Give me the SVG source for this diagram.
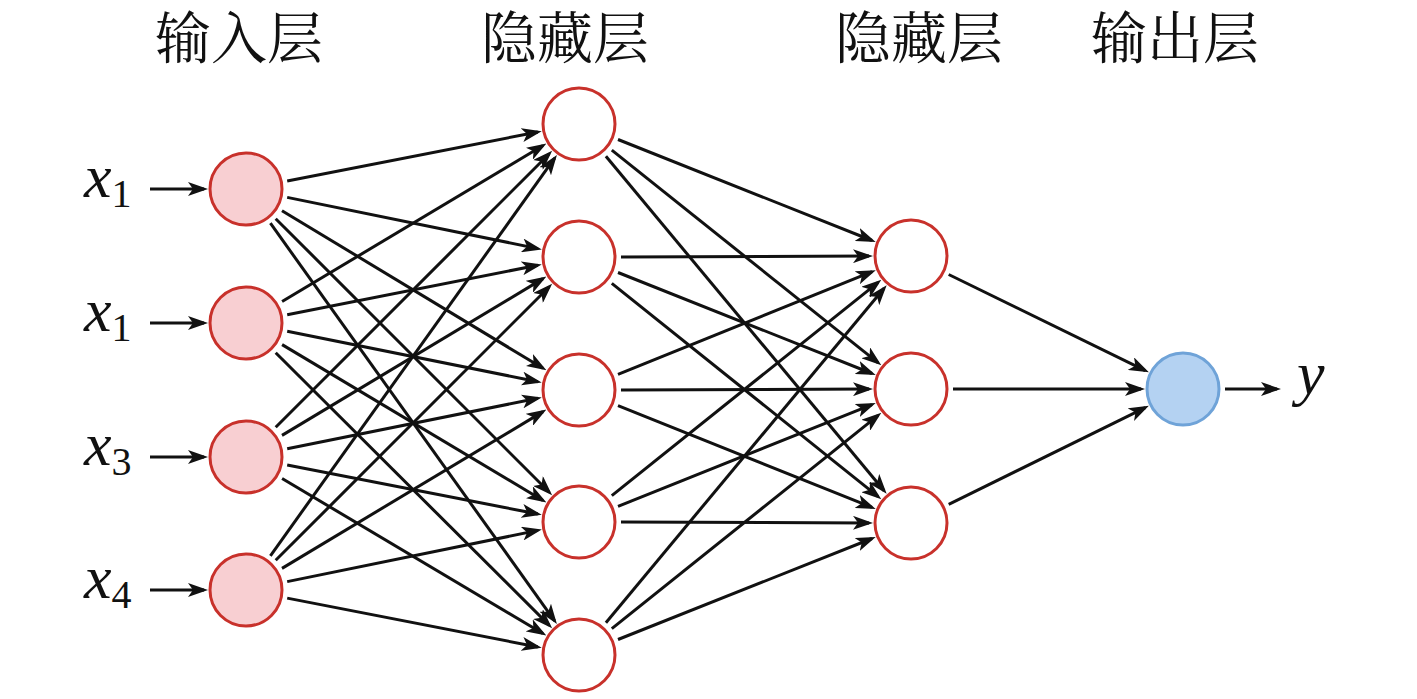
<svg xmlns="http://www.w3.org/2000/svg" width="1417" height="699" viewBox="0 0 1417 699">
<defs>
<marker id="ah" markerUnits="userSpaceOnUse" markerWidth="20" markerHeight="14" viewBox="0 0 20 14" refX="16" refY="7" orient="auto">
<path d="M0,0 L20,7 L0,14 L5,7 z" fill="#111"/>
</marker>
<style>
.title{font-family:"Noto Serif CJK SC","Noto Sans CJK SC",serif;font-size:56px;fill:#111;text-anchor:middle}
.var{font-family:"Liberation Serif","Times New Roman",serif;font-style:italic;font-size:62px;fill:#111}
.sub{font-style:normal;font-size:40px}
.in{fill:#f8cfd2;stroke:#c8312b;stroke-width:3}
.hid{fill:#fff;stroke:#c8312b;stroke-width:3}
.out{fill:#b4d2f2;stroke:#6fa3d8;stroke-width:3}
.c line{stroke:#111;stroke-width:3;marker-end:url(#ah)}
</style>
</defs>
<rect width="1417" height="699" fill="#fff"/>
<g id="titles">
<text class="title" x="239" y="58">输入层</text>
<text class="title" x="565" y="58">隐藏层</text>
<text class="title" x="919" y="58">隐藏层</text>
<text class="title" x="1175" y="58">输出层</text>
</g>
<g id="labels">
<text class="var" x="84" y="197">x<tspan class="sub" dy="10">1</tspan></text>
<text class="var" x="84" y="331">x<tspan class="sub" dy="10">1</tspan></text>
<text class="var" x="84" y="465">x<tspan class="sub" dy="10">3</tspan></text>
<text class="var" x="84" y="598">x<tspan class="sub" dy="10">4</tspan></text>
<text class="var" x="1297" y="394">y</text>
</g>
<g id="connectors" class="c">
<line x1="150" y1="189" x2="204" y2="189" stroke-width="4"/>
<line x1="150" y1="323" x2="204" y2="323" stroke-width="4"/>
<line x1="150" y1="457" x2="204" y2="457" stroke-width="4"/>
<line x1="150" y1="590" x2="204" y2="590" stroke-width="4"/>
<line x1="287.2" y1="181.0" x2="537.8" y2="132.0"/>
<line x1="287.2" y1="197.4" x2="537.9" y2="248.6"/>
<line x1="282.0" y1="210.7" x2="543.0" y2="368.3"/>
<line x1="275.7" y1="218.7" x2="549.3" y2="492.3"/>
<line x1="270.4" y1="223.2" x2="554.6" y2="620.8"/>
<line x1="282.1" y1="301.5" x2="543.0" y2="145.5"/>
<line x1="287.2" y1="314.8" x2="537.8" y2="265.2"/>
<line x1="287.2" y1="331.3" x2="537.8" y2="381.7"/>
<line x1="282.1" y1="344.6" x2="543.0" y2="500.5"/>
<line x1="275.7" y1="352.7" x2="549.3" y2="625.4"/>
<line x1="275.7" y1="427.3" x2="549.3" y2="153.7"/>
<line x1="282.0" y1="435.4" x2="543.0" y2="278.6"/>
<line x1="287.2" y1="448.7" x2="537.8" y2="398.3"/>
<line x1="287.2" y1="465.0" x2="537.8" y2="514.0"/>
<line x1="282.1" y1="478.5" x2="542.9" y2="633.5"/>
<line x1="270.4" y1="555.8" x2="554.6" y2="158.2"/>
<line x1="275.7" y1="560.3" x2="549.3" y2="286.7"/>
<line x1="282.0" y1="568.4" x2="543.0" y2="411.6"/>
<line x1="287.2" y1="581.6" x2="537.9" y2="530.4"/>
<line x1="287.2" y1="598.1" x2="537.8" y2="647.0"/>
<line x1="618.0" y1="139.5" x2="872.0" y2="240.5"/>
<line x1="611.8" y1="150.2" x2="878.2" y2="362.8"/>
<line x1="605.9" y1="156.3" x2="884.1" y2="490.7"/>
<line x1="621" y1="256.9" x2="869" y2="256.1"/>
<line x1="618.0" y1="272.5" x2="872.0" y2="373.5"/>
<line x1="611.8" y1="283.3" x2="878.2" y2="496.7"/>
<line x1="618.0" y1="374.3" x2="872.1" y2="271.7"/>
<line x1="621" y1="389.9" x2="869" y2="389.1"/>
<line x1="618.0" y1="405.6" x2="872.0" y2="507.4"/>
<line x1="611.8" y1="495.7" x2="878.2" y2="282.3"/>
<line x1="618.0" y1="506.4" x2="872.0" y2="404.6"/>
<line x1="621" y1="522.1" x2="869" y2="522.9"/>
<line x1="605.9" y1="622.7" x2="884.1" y2="288.3"/>
<line x1="611.8" y1="628.7" x2="878.2" y2="415.3"/>
<line x1="618.0" y1="639.5" x2="872.0" y2="538.5"/>
<line x1="948.7" y1="274.5" x2="1145.3" y2="370.6"/>
<line x1="953" y1="389" x2="1141" y2="389"/>
<line x1="948.7" y1="504.4" x2="1145.3" y2="407.6"/>
<line x1="1225" y1="389" x2="1277" y2="389" stroke-width="4"/>
</g>
<g id="in1"><circle class="in" cx="246" cy="189" r="36"/></g>
<g id="in2"><circle class="in" cx="246" cy="323" r="36"/></g>
<g id="in3"><circle class="in" cx="246" cy="457" r="36"/></g>
<g id="in4"><circle class="in" cx="246" cy="590" r="36"/></g>
<g id="h1a"><circle class="hid" cx="579" cy="124" r="36"/></g>
<g id="h1b"><circle class="hid" cx="579" cy="257" r="36"/></g>
<g id="h1c"><circle class="hid" cx="579" cy="390" r="36"/></g>
<g id="h1d"><circle class="hid" cx="579" cy="522" r="36"/></g>
<g id="h1e"><circle class="hid" cx="579" cy="655" r="36"/></g>
<g id="h2a"><circle class="hid" cx="911" cy="256" r="36"/></g>
<g id="h2b"><circle class="hid" cx="911" cy="389" r="36"/></g>
<g id="h2c"><circle class="hid" cx="911" cy="523" r="36"/></g>
<g id="out"><circle class="out" cx="1183" cy="389" r="36"/></g>
</svg>
